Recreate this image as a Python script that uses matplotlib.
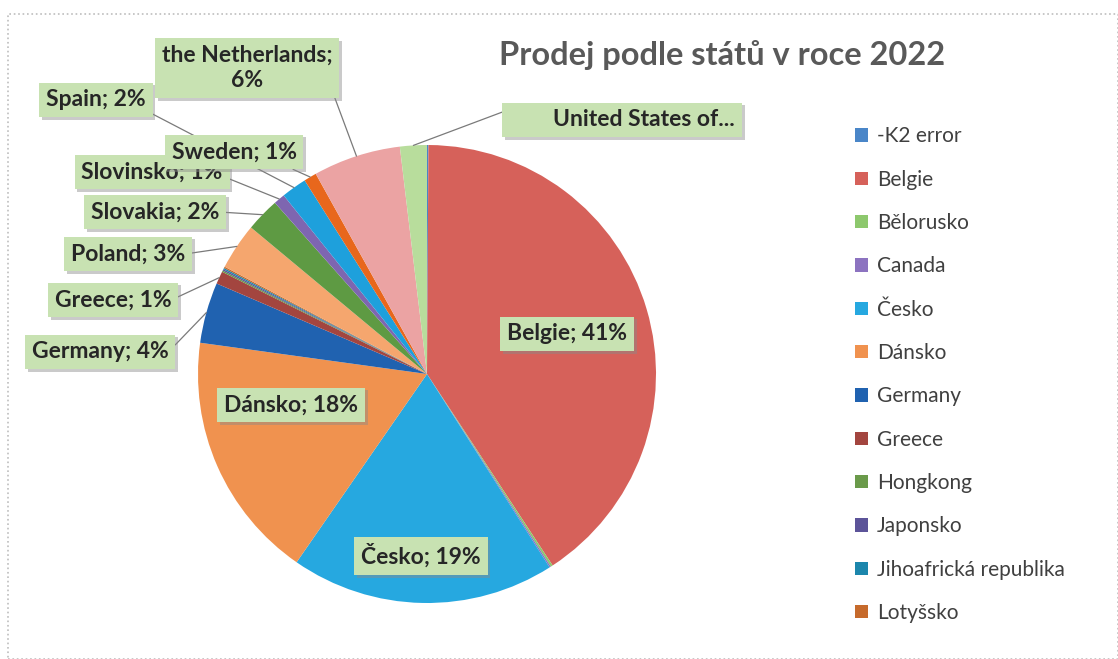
import matplotlib
matplotlib.use('Agg')
import matplotlib.pyplot as plt
from matplotlib import patheffects
from matplotlib.patches import Rectangle
import numpy as np

plt.rcParams['font.family'] = ['Lato', 'DejaVu Sans']

# Share of sales per country (%)
countries = ['-K2 error', 'Belgie', 'Bělorusko', 'Canada', 'Česko', 'Dánsko',
             'Germany', 'Greece', 'Hongkong', 'Japonsko', 'Jihoafrická republika',
             'Lotyšsko', 'Poland', 'Slovakia', 'Slovinsko', 'Spain', 'Sweden',
             'the Netherlands', 'United States of America']
shares = [0.1, 40.8, 0.15, 0.1, 18.7, 17.6,
          4.3, 0.9, 0.1, 0.1, 0.1,
          0.1, 3.3, 2.4, 0.8, 1.8, 0.9,
          6.2, 1.9]
colors = ['#4A86C8', '#D6615A', '#8DC86D', '#8C73C0', '#26A8E0', '#F0924F',
          '#2062B0', '#A3453F', '#6A9A4A', '#5C5499', '#1C86AC',
          '#C66A2C', '#F5A66E', '#5E9A43', '#7E66B0', '#1EA0DC', '#E8671C',
          '#EBA3A3', '#B8DD9C']
legend_count = 12   # legend only shows the first 12 entries

# shown names / label positions (pixels from top-left) for labelled slices
shown_name = {'the Netherlands': 'the Netherlands;\n', 'United States of America': '        United States of...'}
label_pos = {
    'Belgie': (567, 334), 'Česko': (421, 556), 'Dánsko': (291, 405),
    'Germany': (100, 352), 'Greece': (113, 300), 'Poland': (128, 254),
    'Slovakia': (155, 212), 'Slovinsko': (152, 172), 'Sweden': (234, 152),
    'Spain': (96, 100), 'the Netherlands': (247, 68), 'United States of America': (622, 120),
}
leader_from = {'Germany': (1, 0.5), 'Greece': (1, 0.5), 'Poland': (1, 0.5), 'Slovakia': (1, 0.5),
               'Slovinsko': (1, 0.3), 'Sweden': (0.85, 0), 'Spain': (1, 0),
               'the Netherlands': (1, 0), 'United States of America': (0, 1)}

W, H = 1118, 659
fig = plt.figure(figsize=(W / 100, H / 100), dpi=100)
fig.patch.set_facecolor('white')
fig.patches.append(Rectangle((8 / W, 0), (W - 8) / W, (H - 14) / H, transform=fig.transFigure,
                             fill=False, ec='#BDBDBD', lw=1.2, ls=':'))

cx, cy, r = 427, 374, 229
ax = fig.add_axes([(cx - r) / W, (H - cy - r) / H, 2 * r / W, 2 * r / H])
wedges, _ = ax.pie(shares, colors=colors, startangle=90, counterclock=False, radius=1,
                   wedgeprops=dict(linewidth=0))
ax.set_xlim(-1, 1)
ax.set_ylim(-1, 1)
ax.set_aspect('equal')
ax.axis('off')

total = sum(shares)
for name, val, w in zip(countries, shares, wedges):
    if name not in label_pos:
        continue
    pct = round(val / total * 100)
    text = shown_name.get(name, name + '; ') + f'{pct}%'
    if name == 'United States of America':
        text = shown_name[name]
    x, y = label_pos[name]
    ang = np.deg2rad((w.theta1 + w.theta2) / 2)
    if name in leader_from:
        xy = (np.cos(ang), np.sin(ang))
        arrow = dict(arrowstyle='-', color='#7A7A7A', lw=0.9, shrinkA=0, shrinkB=0,
                     relpos=leader_from[name])
    else:
        xy = (0.5 * np.cos(ang), 0.5 * np.sin(ang))
        arrow = None
    ann = ax.annotate(text, xy=xy, xytext=(x, H - y), textcoords='figure pixels',
                      ha='center', va='center', fontsize=16.5, fontweight='bold',
                      color='#262626', linespacing=1.25, arrowprops=arrow,
                      annotation_clip=False,
                      bbox=dict(boxstyle='square,pad=0.3', fc='#C8E2B2', ec='none'))
    ann.get_bbox_patch().set_path_effects([
        patheffects.SimplePatchShadow(offset=(2, -2), shadow_rgbFace='#8A8A8A', alpha=0.45),
        patheffects.Normal()])

fig.text(722 / W, (H - 55) / H, 'Prodej podle států v roce 2022', ha='center', va='center',
         fontsize=23.5, fontweight='bold', color='#595959')

leg = fig.legend(wedges[:legend_count], countries[:legend_count], loc='upper left',
                 bbox_to_anchor=(845 / W, (H - 116) / H), frameon=False,
                 fontsize=15, labelspacing=1.12, handlelength=0.6, handleheight=0.6,
                 handletextpad=0.45, borderpad=0)
for t in leg.get_texts():
    t.set_color('#404040')

fig.savefig('out.png', dpi=100)
